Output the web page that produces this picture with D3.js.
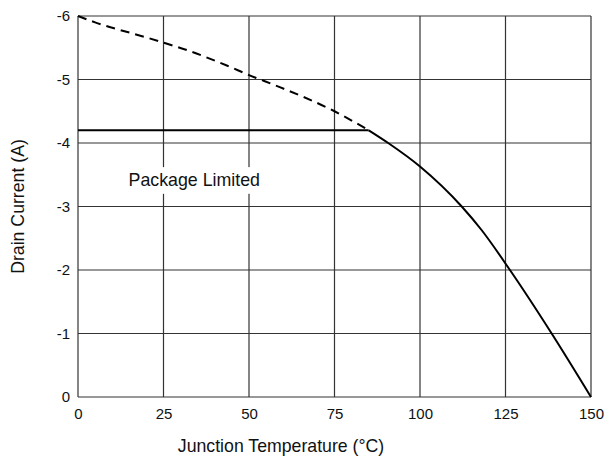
<!DOCTYPE html>
<html>
<head>
<meta charset="utf-8">
<script src="https://cdn.jsdelivr.net/npm/d3@7"></script>
<style>
  body { margin: 0; background: #fff; }
  text { font-family: "Liberation Sans", Arial, sans-serif; fill: #111; }
</style>
</head>
<body>
<div id="chart"></div>
<script>
// data
const X_TICKS = [0, 25, 50, 75, 100, 125, 150];
const Y_TICKS = [0, -1, -2, -3, -4, -5, -6];

// package limit (flat line)
const LIMIT_TEMP = [0, 85];
const LIMIT_CURRENT = [-4.2, -4.2];

// silicon limit above package limit (dashed part)
const DASH_TEMP = [0, 5, 19.5, 25, 32, 43.5, 50, 59, 75, 85];
const DASH_CURRENT = [-6, -5.9, -5.67, -5.58, -5.46, -5.22, -5.07, -4.88, -4.5, -4.2];

// derating curve (solid part)
const CURVE_TEMP = [85, 90.7, 100, 112.2, 118, 126.3, 138.5, 150];
const CURVE_CURRENT = [-4.2, -4.0, -3.63, -3.0, -2.63, -2.0, -1.0, 0];

const FRAME_WIDTH = 606;
const FRAME_HEIGHT = 464;
const MARGINS = {left: 78, right: 15, top: 16, bottom: 67};
const VIS_WIDTH = FRAME_WIDTH - MARGINS.left - MARGINS.right;
const VIS_HEIGHT = FRAME_HEIGHT - MARGINS.top - MARGINS.bottom;

const FRAME = d3.select("#chart")
                .append("svg")
                  .attr("width", FRAME_WIDTH)
                  .attr("height", FRAME_HEIGHT);

const X_SCALE = d3.scaleLinear().domain([0, 150]).range([0, VIS_WIDTH]);
const Y_SCALE = d3.scaleLinear().domain([0, -6]).range([VIS_HEIGHT, 0]);

const G = FRAME.append("g")
               .attr("transform", "translate(" + MARGINS.left + "," + MARGINS.top + ")");

// grid lines
G.selectAll(".vgrid")
  .data(X_TICKS)
  .enter()
  .append("line")
    .attr("x1", (d) => X_SCALE(d))
    .attr("x2", (d) => X_SCALE(d))
    .attr("y1", 0)
    .attr("y2", VIS_HEIGHT)
    .attr("stroke", "#333")
    .attr("stroke-width", 1.2);

G.selectAll(".hgrid")
  .data(Y_TICKS)
  .enter()
  .append("line")
    .attr("x1", 0)
    .attr("x2", VIS_WIDTH)
    .attr("y1", (d) => Y_SCALE(d))
    .attr("y2", (d) => Y_SCALE(d))
    .attr("stroke", "#333")
    .attr("stroke-width", 1.2);

// x axis tick labels
const xAxis = G.append("g")
  .attr("transform", "translate(0," + VIS_HEIGHT + ")")
  .call(d3.axisBottom(X_SCALE).tickValues(X_TICKS).tickSize(0).tickPadding(11));
xAxis.select(".domain").remove();
xAxis.selectAll("text").attr("font-size", "15px").attr("fill", "#111");

// y axis tick labels (plain hyphen minus like the reference)
const yAxis = G.append("g")
  .call(d3.axisLeft(Y_SCALE).tickValues(Y_TICKS).tickSize(0).tickPadding(8)
          .tickFormat((d) => String(d)));
yAxis.select(".domain").remove();
yAxis.selectAll("text").attr("font-size", "15px").attr("fill", "#111");

// label box for Package Limited (hides the grid behind it)
G.append("rect")
  .attr("x", X_SCALE(14))
  .attr("y", Y_SCALE(-3.62))
  .attr("width", X_SCALE(55) - X_SCALE(14))
  .attr("height", Y_SCALE(-3.2) - Y_SCALE(-3.62))
  .attr("fill", "#fff");

G.append("text")
  .attr("x", X_SCALE(34))
  .attr("y", 170)
  .attr("text-anchor", "middle")
  .attr("font-size", "17.8px")
  .text("Package Limited");

const line = d3.line()
  .x((d) => X_SCALE(d[0]))
  .y((d) => Y_SCALE(d[1]))
  .curve(d3.curveMonotoneX);

G.append("path")
  .datum(DASH_TEMP.map((t, i) => [t, DASH_CURRENT[i]]))
  .attr("d", line)
  .attr("fill", "none")
  .attr("stroke", "#000")
  .attr("stroke-width", 2)
  .attr("stroke-dasharray", "9,6");

G.append("path")
  .datum(LIMIT_TEMP.map((t, i) => [t, LIMIT_CURRENT[i]]))
  .attr("d", d3.line().x((d) => X_SCALE(d[0])).y((d) => Y_SCALE(d[1])))
  .attr("fill", "none")
  .attr("stroke", "#000")
  .attr("stroke-width", 2);

G.append("path")
  .datum(CURVE_TEMP.map((t, i) => [t, CURVE_CURRENT[i]]))
  .attr("d", line)
  .attr("fill", "none")
  .attr("stroke", "#000")
  .attr("stroke-width", 2);

// axis titles
FRAME.append("text")
  .attr("x", 281)
  .attr("y", 452)
  .attr("text-anchor", "middle")
  .attr("font-size", "17.7px")
  .text("Junction Temperature (°C)");

FRAME.append("text")
  .attr("transform", "translate(24," + (MARGINS.top + VIS_HEIGHT / 2) + ") rotate(-90)")
  .attr("text-anchor", "middle")
  .attr("font-size", "17.7px")
  .text("Drain Current (A)");
</script>
</body>
</html>
